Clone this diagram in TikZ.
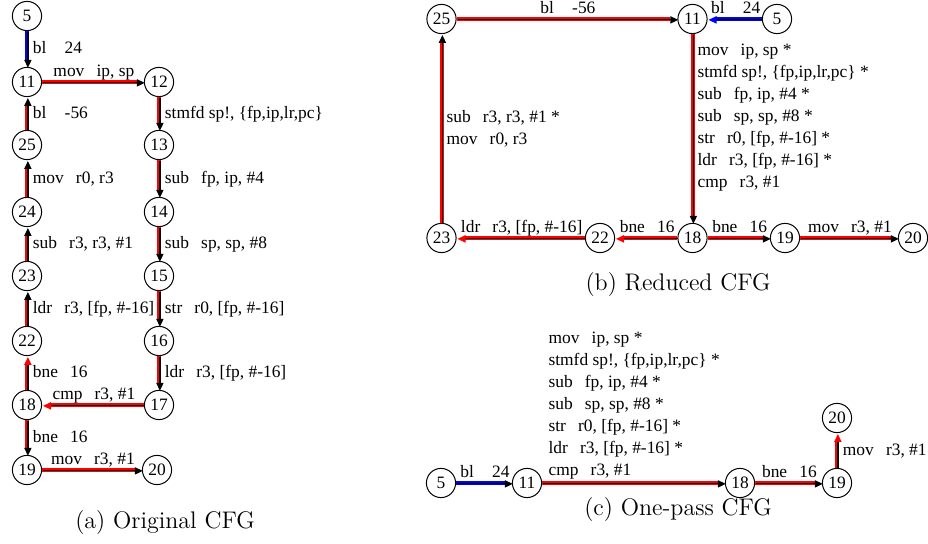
\documentclass[tikz,border=0pt]{standalone}
\usepackage{fontspec}
\newfontfamily\tms{Liberation Serif}
\usetikzlibrary{arrows.meta}
\newcommand\gp{\hspace{0.7em}}
\newcommand\gq{\hspace{1.05em}}
\tikzset{
  vx/.style={circle, draw, line width=0.5pt, minimum size=14.6pt, inner sep=0pt,
    font=\tms\fontsize{8.7}{10}\selectfont},
  lab/.style={font=\tms\fontsize{8.7}{11}\selectfont, inner sep=0.6pt,
    text height=6pt, text depth=1.9pt},
  labm/.style={font=\tms\fontsize{8.7}{11}\selectfont, inner sep=0.6pt, align=left, anchor=west},
  labh/.style={lab, midway, above=0.6pt},
  labv/.style={lab, midway, right=1.6pt},
  captxt/.style={font=\fontsize{12}{14}\selectfont, inner sep=0pt},
  band/.style={line width=2pt, shorten >=3.5pt},
  core/.style={line width=0.6pt, draw=black, transform canvas={shift={(0.45pt,-0.45pt)}}},
  tipk/.style={-{Triangle[length=4pt,width=3.6pt,color=black]}},
  tipr/.style={-{Triangle[length=4pt,width=3.6pt,color=red]}},
  tipb/.style={-{Triangle[length=4pt,width=3.6pt,color=blue]}},
}
% #1 band colour, #2 tip style, #3 from, #4 to, #5 label nodes
\newcommand\cfge[5]{%
  \draw[band,#1] (#3) -- (#4);
  \draw[core,#2] (#3) -- (#4) #5;
}
\begin{document}
\begin{tikzpicture}[x=0.5pt,y=-0.5pt]
\useasboundingbox (0,0) rectangle (928,544);

% ---------------- (a) Original CFG ----------------
\node[vx] (a5)  at (27,16)  {5};
\node[vx] (a11) at (27,82)  {11};
\node[vx] (a12) at (159,82) {12};
\node[vx] (a25) at (27,145) {25};
\node[vx] (a13) at (159,145) {13};
\node[vx] (a24) at (27,212) {24};
\node[vx] (a14) at (159,212) {14};
\node[vx] (a23) at (27,276) {23};
\node[vx] (a15) at (159,276) {15};
\node[vx] (a22) at (27,341) {22};
\node[vx] (a16) at (159,341) {16};
\node[vx] (a18) at (27,405) {18};
\node[vx] (a17) at (159,405) {17};
\node[vx] (a19) at (27,470) {19};
\node[vx] (a20) at (157,470) {20};

\cfge{blue}{tipk}{a5}{a11}{node[labv]{bl\gq 24}}
\cfge{red}{tipk}{a11}{a12}{node[labh]{mov\gp ip, sp}}
\cfge{red}{tipk}{a12}{a13}{node[labv]{stmfd sp!, \{fp,ip,lr,pc\}}}
\cfge{red}{tipk}{a13}{a14}{node[labv]{sub\gp fp, ip, \#4}}
\cfge{red}{tipk}{a14}{a15}{node[labv]{sub\gp sp, sp, \#8}}
\cfge{red}{tipk}{a15}{a16}{node[labv]{str\gp r0, [fp, \#-16]}}
\cfge{red}{tipk}{a16}{a17}{node[labv]{ldr\gp r3, [fp, \#-16]}}
\cfge{red}{tipr}{a17}{a18}{node[labh]{cmp\gp r3, \#1}}
\cfge{red}{tipr}{a18}{a22}{node[labv]{bne\gp 16}}
\cfge{red}{tipk}{a22}{a23}{node[labv]{ldr\gp r3, [fp, \#-16]}}
\cfge{red}{tipk}{a23}{a24}{node[labv]{sub\gp r3, r3, \#1}}
\cfge{red}{tipk}{a24}{a25}{node[labv]{mov\gp r0, r3}}
\cfge{red}{tipk}{a25}{a11}{node[labv]{bl\gq -56}}
\cfge{red}{tipk}{a18}{a19}{node[labv]{bne\gp 16}}
\cfge{red}{tipk}{a19}{a20}{node[labh]{mov\gp r3, \#1}}

\node[captxt] (capa) at (165,523) {(a) Original CFG};

% ---------------- (b) Reduced CFG ----------------
\node[vx] (b25) at (441.5,19) {25};
\node[vx] (b11) at (692.5,19) {11};
\node[vx] (b5)  at (777,19)   {5};
\node[vx] (b23) at (441.5,238) {23};
\node[vx] (b22) at (600,238)  {22};
\node[vx] (b18) at (692.5,238) {18};
\node[vx] (b19) at (785,238)  {19};
\node[vx] (b20) at (913,238)  {20};

\cfge{red}{tipk}{b25}{b11}{node[labh]{bl\gq -56}}
\cfge{blue}{tipb}{b5}{b11}{node[labh]{bl\gq 24}}
\cfge{red}{tipk}{b11}{b18}{}
\cfge{red}{tipk}{b23}{b25}{}
\cfge{red}{tipr}{b22}{b23}{node[labh]{ldr\gp r3, [fp, \#-16]}}
\cfge{red}{tipr}{b18}{b22}{node[labh]{bne\gp 16}}
\cfge{red}{tipk}{b18}{b19}{node[labh]{bne\gp 16}}
\cfge{red}{tipk}{b19}{b20}{node[labh]{mov\gp r3, \#1}}

\node[labm] (lb11) at (696,118) {mov\gp ip, sp *\\stmfd sp!, \{fp,ip,lr,pc\} *\\sub\gp fp, ip, \#4 *\\sub\gp sp, sp, \#8 *\\str\gp r0, [fp, \#-16] *\\ldr\gp r3, [fp, \#-16] *\\cmp\gp r3, \#1};
\node[labm] (lb23) at (445,128.5) {sub\gp r3, r3, \#1 *\\mov\gp r0, r3};

\node[captxt] (capb) at (678,285) {(b) Reduced CFG};

% ---------------- (c) One-pass CFG ----------------
\node[vx] (c5)  at (441,483) {5};
\node[vx] (c11) at (527,483) {11};
\node[vx] (c18) at (740,483) {18};
\node[vx] (c19) at (837,483) {19};
\node[vx] (c20) at (837,418) {20};

\cfge{blue}{tipk}{c5}{c11}{node[labh]{bl\gq 24}}
\cfge{red}{tipk}{c11}{c18}{}
\cfge{red}{tipk}{c18}{c19}{node[labh]{bne\gp 16}}
\cfge{red}{tipr}{c19}{c20}{node[labv]{mov\gp r3, \#1}}

\node[labm] (lc11) at (547,405.5) {mov\gp ip, sp *\\stmfd sp!, \{fp,ip,lr,pc\} *\\sub\gp fp, ip, \#4 *\\sub\gp sp, sp, \#8 *\\str\gp r0, [fp, \#-16] *\\ldr\gp r3, [fp, \#-16] *\\cmp\gp r3, \#1};

\node[captxt] (capc) at (678,510) {(c) One-pass CFG};
\end{tikzpicture}
\end{document}
